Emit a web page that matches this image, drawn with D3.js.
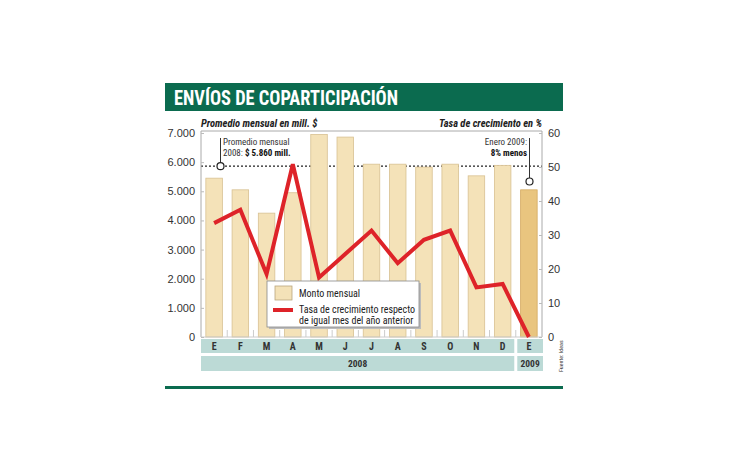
<!DOCTYPE html>
<html>
<head>
<meta charset="utf-8">
<script src="https://cdn.jsdelivr.net/npm/d3@7"></script>
<style>
body { margin: 0; background: #fff; }
svg { font-family: "Liberation Sans Narrow", "Roboto Condensed", "Liberation Sans", sans-serif; }
</style>
</head>
<body>
<svg id="chart" width="730" height="460"></svg>
<script>
// datos
var months = ["E", "F", "M", "A", "M", "J", "J", "A", "S", "O", "N", "D", "E"];
var monto = [5450, 5050, 4250, 4950, 6950, 6860, 5930, 5930, 5830, 5930, 5530, 5890, 5050];
var tasa = [33.5, 37.4, 18.5, 50.8, 17.5, 24.4, 31.3, 21.7, 28.6, 31.3, 14.6, 15.6, 0];
var leftTicks = [0, 1000, 2000, 3000, 4000, 5000, 6000, 7000];
var rightTicks = [0, 10, 20, 30, 40, 50, 60];
var years = [{label: "2008", from: 0, to: 11}, {label: "2009", from: 12, to: 12}];
var promedio = 5860;

var svg = d3.select("#chart");
var plot_left = 201, plot_right = 542, plot_top = 133, plot_bottom = 337;
var green = "#0b6b4f";

var x_scale = d3.scaleBand().domain(d3.range(months.length)).range([plot_left, plot_right]).paddingInner(0.37).paddingOuter(0.185);
var y_scale = d3.scaleLinear().domain([0, 7000]).range([plot_bottom, plot_top]);
var y2_scale = d3.scaleLinear().domain([0, 60]).range([plot_bottom, plot_top]);
var step = x_scale.step();

function fmt(v) { return d3.format(",")(v).replace(/,/g, "."); }

// titulo
svg.append("rect").attr("x", 165).attr("y", 83).attr("width", 398).attr("height", 28).attr("fill", green);
svg.append("text").attr("x", 174).attr("y", 105).attr("fill", "#fff")
    .attr("font-size", 21).attr("font-weight", "bold")
    .attr("textLength", 224).attr("lengthAdjust", "spacingAndGlyphs")
    .text("ENVÍOS DE COPARTICIPACIÓN");

// titulos de ejes
svg.append("text").attr("x", plot_left).attr("y", 127).attr("font-size", 10.5)
    .attr("font-weight", "bold").attr("font-style", "italic").attr("fill", "#222")
    .text("Promedio mensual en mill. $");
svg.append("text").attr("x", plot_right).attr("y", 127).attr("font-size", 10.5)
    .attr("font-weight", "bold").attr("font-style", "italic").attr("fill", "#222")
    .attr("text-anchor", "end").text("Tasa de crecimiento en %");

// promedio 2008 (detras de las barras)
svg.append("line").attr("x1", plot_left).attr("x2", plot_right)
    .attr("y1", y_scale(promedio)).attr("y2", y_scale(promedio))
    .attr("stroke", "#222").attr("stroke-width", 1.2).attr("stroke-dasharray", "2,2");

// barras
svg.selectAll("rect.bar")
    .data(monto)
    .enter()
    .append("rect")
    .attr("class", "bar")
    .attr("x", function(d, i) { return x_scale(i); })
    .attr("y", function(d) { return y_scale(d); })
    .attr("width", x_scale.bandwidth())
    .attr("height", function(d) { return plot_bottom - y_scale(d); })
    .attr("fill", function(d, i) { return i == 12 ? "#e9c57f" : "#f4e2b8"; })
    .attr("stroke", function(d, i) { return i == 12 ? "#d4aa60" : "#d8c192"; })
    .attr("stroke-width", 0.8);

// marcas pequenas entre barras
svg.selectAll("line.sep")
    .data(d3.range(1, months.length))
    .enter()
    .append("line")
    .attr("x1", function(d) { return x_scale(d) - (step - x_scale.bandwidth()) / 2; })
    .attr("x2", function(d) { return x_scale(d) - (step - x_scale.bandwidth()) / 2; })
    .attr("y1", plot_bottom - 7).attr("y2", plot_bottom)
    .attr("stroke", "#ccc").attr("stroke-width", 1);

// marco
svg.append("path")
    .attr("d", "M" + plot_left + "," + plot_bottom + "V" + (plot_top - 2) + "H" + plot_right + "V" + plot_bottom)
    .attr("fill", "none").attr("stroke", "#aaa").attr("stroke-width", 1);
svg.append("line").attr("x1", plot_left).attr("x2", plot_right).attr("y1", plot_bottom).attr("y2", plot_bottom)
    .attr("stroke", "#ccc");

// ejes
var left_axis = svg.append("g").attr("transform", "translate(" + plot_left + ",0)")
    .call(d3.axisLeft(y_scale).tickValues(leftTicks).tickFormat(fmt).tickSize(-3).tickPadding(6));
var right_axis = svg.append("g").attr("transform", "translate(" + plot_right + ",0)")
    .call(d3.axisRight(y2_scale).tickValues(rightTicks).tickSize(-3).tickPadding(6));
[left_axis, right_axis].forEach(function(a) {
    a.select(".domain").remove();
    a.selectAll("line").attr("stroke", "#bbb");
    a.selectAll("text").attr("font-size", 11).attr("fill", "#333")
        .attr("font-family", "'Liberation Sans Narrow', 'Liberation Sans', sans-serif");
});

// linea de tasa
var line = d3.line()
    .x(function(d, i) { return x_scale(i) + x_scale.bandwidth() / 2; })
    .y(function(d) { return y2_scale(d); });
svg.append("path").datum(tasa).attr("d", line)
    .attr("fill", "none").attr("stroke", "#de2329").attr("stroke-width", 4)
    .attr("stroke-linejoin", "miter");

// anotaciones
var ax1 = 220.5, ax2 = 529.5;
svg.append("line").attr("x1", ax1).attr("x2", ax1).attr("y1", 138).attr("y2", y_scale(promedio) - 3.5)
    .attr("stroke", "#333").attr("stroke-width", 1);
svg.append("circle").attr("cx", ax1).attr("cy", y_scale(promedio)).attr("r", 3.5)
    .attr("fill", "#fff").attr("stroke", "#222").attr("stroke-width", 1.2);
svg.append("text").attr("x", ax1 + 2.5).attr("y", 145).attr("font-size", 9).attr("fill", "#333").text("Promedio mensual");
var t2 = svg.append("text").attr("x", ax1 + 2.5).attr("y", 156).attr("font-size", 9).attr("fill", "#333");
t2.append("tspan").text("2008: ");
t2.append("tspan").attr("font-weight", "bold").attr("fill", "#111").text("$ 5.860 mill.");

svg.append("line").attr("x1", ax2).attr("x2", ax2).attr("y1", 138).attr("y2", 178)
    .attr("stroke", "#333").attr("stroke-width", 1);
svg.append("circle").attr("cx", ax2).attr("cy", 181.5).attr("r", 3.5)
    .attr("fill", "#fff").attr("stroke", "#222").attr("stroke-width", 1.2);
svg.append("text").attr("x", ax2 - 2.5).attr("y", 145).attr("font-size", 9).attr("fill", "#333")
    .attr("text-anchor", "end").text("Enero 2009:");
svg.append("text").attr("x", ax2 - 2.5).attr("y", 156).attr("font-size", 9).attr("fill", "#111")
    .attr("font-weight", "bold").attr("text-anchor", "end").text("8% menos");

// leyenda
var lg = svg.append("g").attr("transform", "translate(267,281)");
lg.append("rect").attr("x", 2).attr("y", 2).attr("width", 152).attr("height", 46).attr("fill", "#bbb");
lg.append("rect").attr("width", 152).attr("height", 46).attr("fill", "#fff").attr("stroke", "#888").attr("stroke-width", 0.8);
lg.append("rect").attr("x", 8).attr("y", 5).attr("width", 17).attr("height", 14)
    .attr("fill", "#f4e2b8").attr("stroke", "#b9a67e").attr("stroke-width", 0.8);
lg.append("text").attr("x", 32).attr("y", 16).attr("font-size", 10).attr("fill", "#222").text("Monto mensual");
lg.append("line").attr("x1", 6).attr("x2", 26).attr("y1", 29).attr("y2", 29)
    .attr("stroke", "#de2329").attr("stroke-width", 4);
lg.append("text").attr("x", 32).attr("y", 32).attr("font-size", 10).attr("fill", "#222").text("Tasa de crecimiento respecto");
lg.append("text").attr("x", 32).attr("y", 43).attr("font-size", 10).attr("fill", "#222").text("de igual mes del año anterior");

// bandas de meses y anios
var band_color = "#bcdad6";
function bandRange(from, to) {
    var x0 = from == 0 ? plot_left : x_scale(from) - (step - x_scale.bandwidth()) / 2 + 1.5;
    var x1 = to == months.length - 1 ? plot_right + 1 : x_scale(to) + x_scale.bandwidth() + (step - x_scale.bandwidth()) / 2 - 1.5;
    return [x0, x1];
}
years.forEach(function(yr) {
    var r = bandRange(yr.from, yr.to);
    svg.append("rect").attr("x", r[0]).attr("y", 339).attr("width", r[1] - r[0]).attr("height", 14).attr("fill", band_color);
    svg.append("rect").attr("x", r[0]).attr("y", 356).attr("width", r[1] - r[0]).attr("height", 15).attr("fill", band_color);
    svg.append("text").attr("x", (r[0] + r[1]) / 2).attr("y", 367).attr("text-anchor", "middle")
        .attr("font-size", 9.5).attr("font-weight", "bold").attr("fill", "#333").text(yr.label);
});
svg.selectAll("text.month")
    .data(months)
    .enter()
    .append("text")
    .attr("class", "month")
    .attr("x", function(d, i) { return x_scale(i) + x_scale.bandwidth() / 2; })
    .attr("y", 350)
    .attr("text-anchor", "middle")
    .attr("font-size", 10).attr("font-weight", "bold").attr("fill", "#333")
    .text(function(d) { return d; });

// fuente
svg.append("text").attr("transform", "translate(563,372) rotate(-90)")
    .attr("font-size", 6).attr("fill", "#333").text("Fuente: Ideas");

// linea inferior
svg.append("rect").attr("x", 165).attr("y", 386).attr("width", 398).attr("height", 3).attr("fill", green);
</script>
</body>
</html>
